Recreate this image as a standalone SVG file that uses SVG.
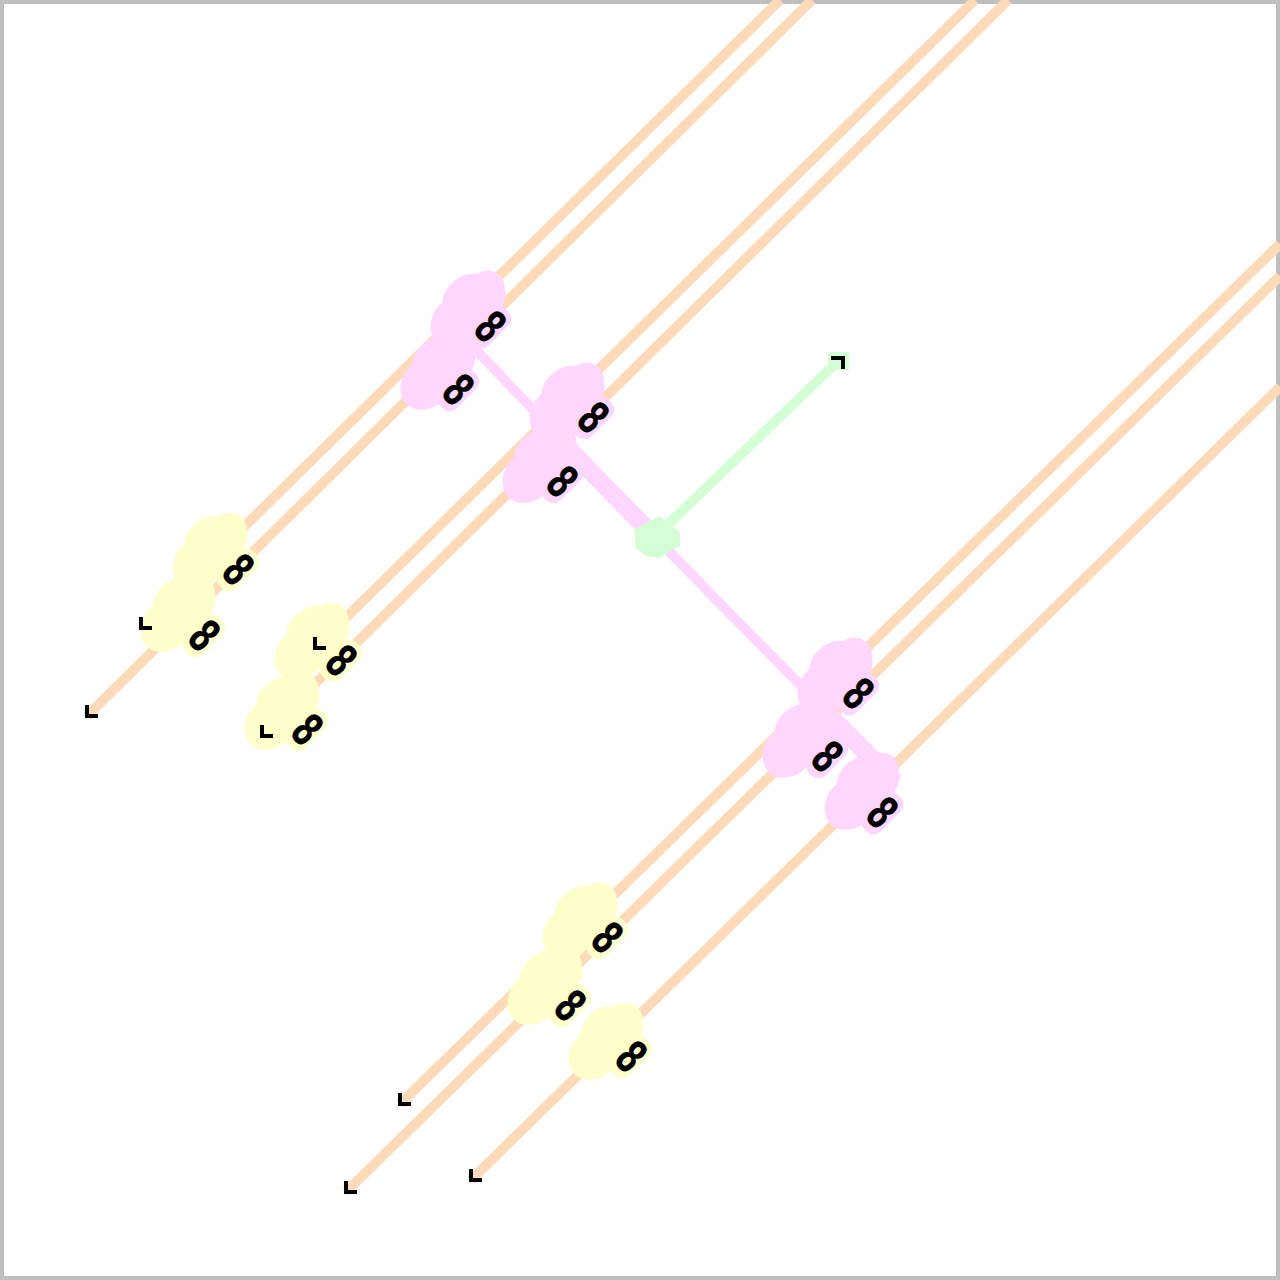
<svg xmlns="http://www.w3.org/2000/svg" width="1280" height="1280" viewBox="0 0 1280 1280">
<style>
.peach{stroke:#FFDAB9;stroke-width:10;fill:none;stroke-linecap:butt}
.pinkc{stroke:#FFD6FF;fill:none;stroke-linecap:butt}
.greenc{stroke:#D4FFD4;stroke-width:10;fill:none}
.pink{fill:#FFD6FF}
.yellow{fill:#FFFFCC}
.green{fill:#D4FFD4}
.lbl{font-family:"DejaVu Sans",sans-serif;font-size:42px;font-weight:bold;fill:#000;text-anchor:middle;dominant-baseline:central}
.arr{stroke:#000;stroke-width:4;fill:none}
</style>
<defs>
<path id="blob" d="M-46,6 C-49,-10 -32,-24 -14,-22 C-4,-32 20,-32 30,-18 C46,-14 50,2 40,12 C32,26 10,28 -4,22 C-20,30 -42,22 -46,6 Z"/>
<rect id="lb" x="-24" y="-12" width="48" height="24" rx="10"/>
<path id="ah" d="M0,-11 L0,0 L11,0"/>
</defs>
<rect x="2" y="2" width="1276" height="1276" fill="#fff" stroke="#BFBFBF" stroke-width="4"/>
<g id="connectors">
<line class="peach" x1="780" y1="0" x2="141" y2="628"/>
<line class="peach" x1="812" y1="0" x2="87" y2="716"/>
<line class="peach" x1="975" y1="0" x2="315" y2="648"/>
<line class="peach" x1="1008" y1="0" x2="262" y2="736"/>
<line class="peach" x1="1280" y1="244" x2="400" y2="1104"/>
<line class="peach" x1="1280" y1="276" x2="346" y2="1192"/>
<line class="peach" x1="1280" y1="387" x2="471" y2="1180"/>
<line class="pinkc" stroke-width="10" x1="455" y1="328" x2="655" y2="537"/>
<line class="pinkc" stroke-width="18" x1="560" y1="440" x2="655" y2="537"/>
<line class="pinkc" stroke-width="10" x1="655" y1="537" x2="895" y2="782"/>
<line class="pinkc" stroke-width="18" x1="822" y1="708" x2="895" y2="782"/>
<line class="greenc" x1="655" y1="537" x2="836" y2="363"/>
</g>
<g id="n-y1"><use href="#blob" class="yellow" transform="translate(210,550) rotate(-45)"/><use href="#lb" class="yellow" transform="translate(238,570) rotate(-45)"/><text class="lbl" transform="translate(238,570) rotate(45) scale(0.72,1.1)">8</text></g>
<g id="n-y2"><use href="#blob" class="yellow" transform="translate(178,612) rotate(-45)"/><use href="#lb" class="yellow" transform="translate(204,636) rotate(-45)"/><text class="lbl" transform="translate(204,636) rotate(45) scale(0.72,1.1)">8</text></g>
<g id="n-y3"><use href="#blob" class="yellow" transform="translate(312,640) rotate(-45)"/><use href="#lb" class="yellow" transform="translate(341,661) rotate(-45)"/><text class="lbl" transform="translate(341,661) rotate(45) scale(0.72,1.1)">8</text></g>
<g id="n-y4"><use href="#blob" class="yellow" transform="translate(282,710) rotate(-45)"/><use href="#lb" class="yellow" transform="translate(307,730) rotate(-45)"/><text class="lbl" transform="translate(307,730) rotate(45) scale(0.72,1.1)">8</text></g>
<g id="n-y5"><use href="#blob" class="yellow" transform="translate(580,920) rotate(-45)"/><use href="#lb" class="yellow" transform="translate(607,938) rotate(-45)"/><text class="lbl" transform="translate(607,938) rotate(45) scale(0.72,1.1)">8</text></g>
<g id="n-y6"><use href="#blob" class="yellow" transform="translate(545,985) rotate(-45)"/><use href="#lb" class="yellow" transform="translate(570,1006) rotate(-45)"/><text class="lbl" transform="translate(570,1006) rotate(45) scale(0.72,1.1)">8</text></g>
<g id="n-y7"><use href="#blob" class="yellow" transform="translate(606,1040) rotate(-45)"/><use href="#lb" class="yellow" transform="translate(631,1057) rotate(-45)"/><text class="lbl" transform="translate(631,1057) rotate(45) scale(0.72,1.1)">8</text></g>
<g id="n-p1"><use href="#blob" class="pink" transform="translate(468,308) rotate(-45)"/><use href="#lb" class="pink" transform="translate(490,327) rotate(-45)"/><text class="lbl" transform="translate(490,327) rotate(45) scale(0.72,1.1)">8</text></g>
<g id="n-p2"><use href="#blob" class="pink" transform="translate(438,370) rotate(-45)"/><use href="#lb" class="pink" transform="translate(458,390) rotate(-45)"/><text class="lbl" transform="translate(458,390) rotate(45) scale(0.72,1.1)">8</text></g>
<g id="n-p3"><use href="#blob" class="pink" transform="translate(567,400) rotate(-45)"/><use href="#lb" class="pink" transform="translate(593,418) rotate(-45)"/><text class="lbl" transform="translate(593,418) rotate(45) scale(0.72,1.1)">8</text></g>
<g id="n-p4"><use href="#blob" class="pink" transform="translate(540,463) rotate(-45)"/><use href="#lb" class="pink" transform="translate(562,482) rotate(-45)"/><text class="lbl" transform="translate(562,482) rotate(45) scale(0.72,1.1)">8</text></g>
<g id="n-p5"><use href="#blob" class="pink" transform="translate(835,675) rotate(-45)"/><use href="#lb" class="pink" transform="translate(858,694) rotate(-45)"/><text class="lbl" transform="translate(858,694) rotate(45) scale(0.72,1.1)">8</text></g>
<g id="n-p6"><use href="#blob" class="pink" transform="translate(800,738) rotate(-45)"/><use href="#lb" class="pink" transform="translate(827,757) rotate(-45)"/><text class="lbl" transform="translate(827,757) rotate(45) scale(0.72,1.1)">8</text></g>
<g id="n-p7"><use href="#blob" class="pink" transform="translate(862,790) rotate(-45)"/><use href="#lb" class="pink" transform="translate(882,813) rotate(-45)"/><text class="lbl" transform="translate(882,813) rotate(45) scale(0.72,1.1)">8</text></g>
<g id="n-g"><path class="green" d="M634,530 L648,522 L660,516 L668,524 L680,532 L680,546 L668,552 L660,558 L646,556 L636,548 Z"/></g>
<g id="arrowheads">
<rect class="green" x="828" y="352" width="21" height="18"/>
<path class="arr" d="M831,358 L843,358 L843,369"/>
<use href="#ah" class="arr" transform="translate(141,628)"/>
<use href="#ah" class="arr" transform="translate(87,716)"/>
<use href="#ah" class="arr" transform="translate(315,648)"/>
<use href="#ah" class="arr" transform="translate(262,736)"/>
<use href="#ah" class="arr" transform="translate(400,1104)"/>
<use href="#ah" class="arr" transform="translate(346,1192)"/>
<use href="#ah" class="arr" transform="translate(471,1180)"/>
</g>
</svg>
